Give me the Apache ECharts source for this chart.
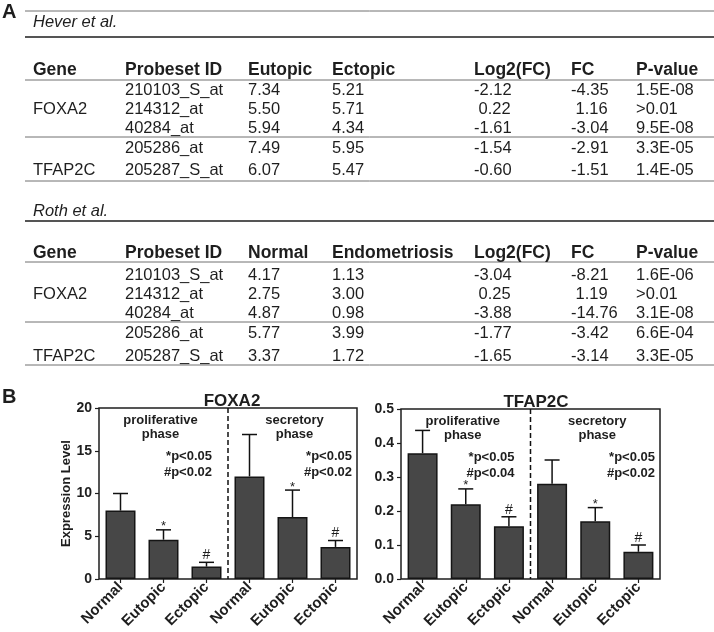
<!DOCTYPE html>
<html><head><meta charset="utf-8">
<script src="https://cdn.jsdelivr.net/npm/echarts@6/dist/echarts.min.js"></script>
<style>html,body{margin:0;padding:0;background:#fff}#c{width:714px;height:632px}</style>
</head><body><div id="c"></div><script>
// ---------- DATA ----------
const geneNames = ['FOXA2', 'TFAP2C'];
const probesetIds = ['210103_S_at', '214312_at', '40284_at', '205286_at', '205287_S_at'];
const heverHeaders = ['Gene', 'Probeset ID', 'Eutopic', 'Ectopic', 'Log2(FC)', 'FC', 'P-value'];
const heverEutopic = [7.34, 5.50, 5.94, 7.49, 6.07];
const heverEctopic = [5.21, 5.71, 4.34, 5.95, 5.47];
const heverLog2FC = [-2.12, 0.22, -1.61, -1.54, -0.60];
const heverFC = [-4.35, 1.16, -3.04, -2.91, -1.51];
const heverP = ['1.5E-08', '>0.01', '9.5E-08', '3.3E-05', '1.4E-05'];
const rothHeaders = ['Gene', 'Probeset ID', 'Normal', 'Endometriosis', 'Log2(FC)', 'FC', 'P-value'];
const rothNormal = [4.17, 2.75, 4.87, 5.77, 3.37];
const rothEndo = [1.13, 3.00, 0.98, 3.99, 1.72];
const rothLog2FC = [-3.04, 0.25, -3.88, -1.77, -1.65];
const rothFC = [-8.21, 1.19, -14.76, -3.42, -3.14];
const rothP = ['1.6E-06', '>0.01', '3.1E-08', '6.6E-04', '3.3E-05'];

const barCategories = ['Normal', 'Eutopic', 'Ectopic', 'Normal', 'Eutopic', 'Ectopic'];
const foxa2Mean = [8.0, 4.6, 1.45, 12.0, 7.25, 3.75];
const foxa2Err = [2.0, 1.15, 0.5, 4.9, 3.15, 0.75];
const tfap2cMean = [0.37, 0.22, 0.155, 0.28, 0.17, 0.08];
const tfap2cErr = [0.067, 0.045, 0.028, 0.07, 0.04, 0.02];
const sigMarks = ['', '*', '#', '', '*', '#'];
const foxa2Notes = ['*p<0.05', '#p<0.02', '*p<0.05', '#p<0.02'];
const tfap2cNotes = ['*p<0.05', '#p<0.04', '*p<0.05', '#p<0.02'];
const phaseNames = [['proliferative', 'phase'], ['secretory', 'phase']];

// ---------- LAYOUT ----------
const FONT = "'Liberation Sans', Arial, sans-serif";
const INK = '#1e1e1e';
const RULE = '#707070';
const colX = [33, 125, 248, 332, 474, 571, 636];
const t1 = {title: 'Hever et al.', titleY: 22, headY: 70, rows: [90, 109, 128, 148, 170],
  topRule: 11, thick: 37, headRule: 80, midRule: 137, bottom: 181, geneRows: [1, 4],
  headers: heverHeaders, cols: [heverEutopic, heverEctopic, heverLog2FC, heverFC, heverP]};
const t2 = {title: 'Roth et al.', titleY: 211, headY: 253, rows: [275, 294, 313, 333, 356],
  topRule: null, thick: 221, headRule: 262, midRule: 322, bottom: 365, geneRows: [1, 4],
  headers: rothHeaders, cols: [rothNormal, rothEndo, rothLog2FC, rothFC, rothP]};

function fmt(v, signed) {
  if (typeof v === 'string') return v;
  const s = v.toFixed(2);
  return (signed && v >= 0) ? '\u00a0' + s : s;
}
const graphic = [];
function txt(t, x, y, font, align) {
  graphic.push({type: 'text', silent: true, style: {text: t, x: x, y: y, font: font, fill: INK,
    align: align || 'left', verticalAlign: 'middle'}});
}
function rule(y, w, c) {
  graphic.push({type: 'line', silent: true, shape: {x1: 25, y1: y, x2: 714, y2: y},
    style: {stroke: c || RULE, lineWidth: w}});
}
function buildTable(t) {
  if (t.topRule !== null) rule(t.topRule, 1);
  rule(t.thick, 2.2, '#555');
  rule(t.headRule, 1);
  rule(t.midRule, 1);
  rule(t.bottom, 1);
  txt(t.title, colX[0], t.titleY, 'italic 16.5px ' + FONT);
  t.headers.forEach((h, i) => txt(h, colX[i], t.headY, 'bold 17.5px ' + FONT));
  geneNames.forEach((g, i) => txt(g, colX[0], t.rows[t.geneRows[i]], '16.5px ' + FONT));
  probesetIds.forEach((p, r) => {
    txt(p, colX[1], t.rows[r], '16.5px ' + FONT);
    t.cols.forEach((col, c) => txt(fmt(col[r], c >= 2), colX[c + 2], t.rows[r], '16.5px ' + FONT));
  });
}
buildTable(t1);
buildTable(t2);
graphic.push({type: 'text', silent: true, style: {text: 'A', x: 2, y: 12, font: 'bold 20px ' + FONT, fill: INK, verticalAlign: 'middle'}});
graphic.push({type: 'text', silent: true, style: {text: 'B', x: 2, y: 397, font: 'bold 20px ' + FONT, fill: INK, verticalAlign: 'middle'}});

// chart annotations
const grids = [{left: 99, top: 408, width: 258, height: 171}, {left: 401, top: 409, width: 259, height: 170}];
const notesList = [foxa2Notes, tfap2cNotes];
grids.forEach((g, gi) => {
  const half = g.width / 2;
  phaseNames.forEach((pn, pi) => {
    const cx = g.left + half * pi + half / 2 + (pi === 0 ? -3 : 2);
    txt(pn[0], cx, g.top + 12, 'bold 13px ' + FONT, 'center');
    txt(pn[1], cx, g.top + 26, 'bold 13px ' + FONT, 'center');
    const rx = g.left + half * (pi + 1) - (pi === 0 ? 16 : 5);
    txt(notesList[gi][pi * 2], rx, g.top + 48, 'bold 13px ' + FONT, 'right');
    txt(notesList[gi][pi * 2 + 1], rx, g.top + 64, 'bold 13px ' + FONT, 'right');
  });
});

function errRender(params, api) {
  const i = api.value(0);
  const p0 = api.coord([i, api.value(1)]);
  const p1 = api.coord([i, api.value(2)]);
  const mark = sigMarks[i];
  const children = [
    {type: 'line', shape: {x1: p0[0], y1: p0[1], x2: p1[0], y2: p1[1]}, style: {stroke: '#111', lineWidth: 1.5}},
    {type: 'line', shape: {x1: p1[0] - 7.5, y1: p1[1], x2: p1[0] + 7.5, y2: p1[1]}, style: {stroke: '#111', lineWidth: 1.5}}
  ];
  if (mark) {
    children.push({type: 'text', style: {text: mark, x: p1[0], y: p1[1] - (mark === '*' ? 3 : 7),
      font: (mark === '*' ? '13px ' : '14px ') + FONT, fill: INK, align: 'center', verticalAlign: 'middle'}});
  }
  return {type: 'group', children: children};
}
function dividerRender(params, api) {
  const a = api.coord([api.value(0), 0]);
  const b = api.coord([api.value(0) + 1, 0]);
  const cs = params.coordSys;
  const x = (a[0] + b[0]) / 2;
  return {type: 'line', shape: {x1: x, y1: cs.y, x2: x, y2: cs.y + cs.height},
    style: {stroke: '#111', lineWidth: 1.5, lineDash: [5, 3]}};
}

const means = [foxa2Mean, tfap2cMean];
const errs = [foxa2Err, tfap2cErr];
const yMax = [20, 0.5], yInt = [5, 0.1];
const option = {
  animation: false,
  graphic: graphic,
  title: [
    {text: 'FOXA2', left: 227, top: 388, textAlign: 'center', textStyle: {fontFamily: FONT, fontWeight: 'bold', fontSize: 17, color: INK}},
    {text: 'TFAP2C', left: 531, top: 389, textAlign: 'center', textStyle: {fontFamily: FONT, fontWeight: 'bold', fontSize: 17, color: INK}}
  ],
  grid: grids.map(g => Object.assign({show: true, borderColor: '#1e1e1e', borderWidth: 1.5, containLabel: false}, g)),
  xAxis: [0, 1].map(i => ({
    type: 'category', gridIndex: i, data: barCategories,
    axisLine: {show: false}, axisTick: {show: true, alignWithLabel: true, length: 4, lineStyle: {color: '#1e1e1e', width: 1.2}},
    axisLabel: {interval: 0, rotate: 45, margin: 6, fontFamily: FONT, fontWeight: 'bold', fontSize: 15, color: INK}
  })),
  yAxis: [0, 1].map(i => ({
    type: 'value', gridIndex: i, min: 0, max: yMax[i], interval: yInt[i],
    name: i === 0 ? 'Expression Level' : '', nameLocation: 'middle', nameGap: 24,
    nameTextStyle: {fontFamily: FONT, fontWeight: 'bold', fontSize: 13, color: INK},
    splitLine: {show: false},
    axisLine: {show: false}, axisTick: {show: true, length: 4, lineStyle: {color: '#1e1e1e', width: 1.2}},
    axisLabel: {margin: 7, fontFamily: FONT, fontWeight: 'bold', fontSize: 14, color: INK,
      formatter: v => i === 0 ? String(v) : v.toFixed(1)}
  })),
  series: []
};
[0, 1].forEach(i => {
  option.series.push({type: 'bar', xAxisIndex: i, yAxisIndex: i, data: means[i], barWidth: 30,
    itemStyle: {color: '#474747', borderColor: '#151515', borderWidth: 1.5}, z: 2});
  option.series.push({type: 'custom', xAxisIndex: i, yAxisIndex: i, renderItem: errRender, z: 3,
    data: means[i].map((m, k) => [k, m, m + errs[i][k]]), encode: {x: 0, y: [1, 2]}});
  option.series.push({type: 'custom', xAxisIndex: i, yAxisIndex: i, renderItem: dividerRender, z: 1,
    data: [[2]], encode: {x: 0}});
});
const chart = echarts.init(document.getElementById('c'), null, {renderer: 'canvas'});
chart.setOption(option);
</script></body></html>
